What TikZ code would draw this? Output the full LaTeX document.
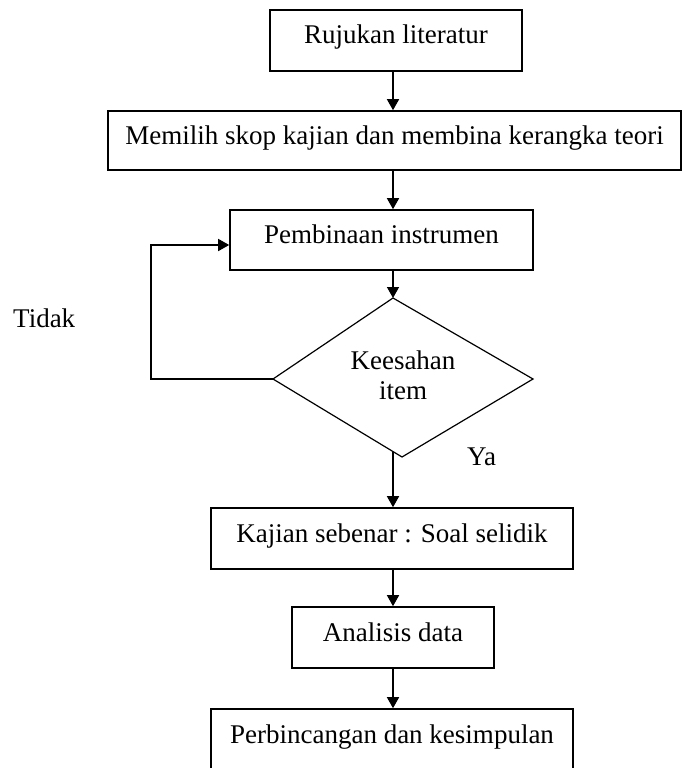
\documentclass[tikz,border=0pt]{standalone}
\usepackage{fontspec}
\setmainfont{Liberation Serif}
\usetikzlibrary{arrows.meta,calc}
\begin{document}
\begin{tikzpicture}[x=1pt,y=-1pt,
  every node/.style={font=\fontsize{27}{30}\selectfont},
  stepbox/.style={draw,line width=1.6pt,inner sep=0pt,text height=17pt,text depth=10pt},
  conn/.style={line width=1.5pt},
  arr/.style={conn,-{Triangle[length=11pt,width=12pt]}},
  lbl/.style={anchor=base west,inner sep=0pt}]
\useasboundingbox (0,0) rectangle (683,768);
\clip (0,0) rectangle (683,768);
\coordinate (ax) at (393,0);
\node[stepbox,minimum width=252pt,minimum height=61pt] (b1) at (396,40.5) {Rujukan literatur};
\node[stepbox,minimum width=573pt,minimum height=59pt] (b2) at (394.5,140.5) {Memilih skop kajian dan membina kerangka teori};
\node[stepbox,minimum width=303pt,minimum height=60pt] (b3) at (381.5,240) {Pembinaan instrumen};
\coordinate (dT) at (393,298);
\coordinate (dL) at (273,379);
\coordinate (dR) at (533,379);
\coordinate (dB) at (402,457);
\coordinate (dOut) at (393,451.6);
\draw[line width=1.2pt,line join=miter] (dT) -- (dR) -- (dB) -- (dL) -- cycle;
\node[align=center,inner sep=0pt] (dtext) at (403,375) {Keesahan\\item};
\node[stepbox,minimum width=362pt,minimum height=61pt] (b4) at (392,538.5) {Kajian sebenar : Soal selidik};
\node[stepbox,minimum width=202pt,minimum height=61pt] (b5) at (393,637.5) {Analisis data};
\node[stepbox,minimum width=362pt,minimum height=61pt] (b6) at (392,739.5) {Perbincangan dan kesimpulan};
\node[lbl] (tidak) at (13,327) {Tidak};
\node[lbl] (ya) at (467,465) {Ya};
\draw[arr] (b1.south -| ax) -- (b2.north -| ax);
\draw[arr] (b2.south -| ax) -- (b3.north -| ax);
\draw[arr] (b3.south -| ax) -- (dT);
\draw[arr] (dL) -- ++(-122,0) |- ([yshift=-5pt]b3.west);
\draw[arr] (dOut) -- (b4.north -| ax);
\draw[arr] (b4.south -| ax) -- (b5.north -| ax);
\draw[arr] (b5.south -| ax) -- (b6.north -| ax);
\end{tikzpicture}
\end{document}
